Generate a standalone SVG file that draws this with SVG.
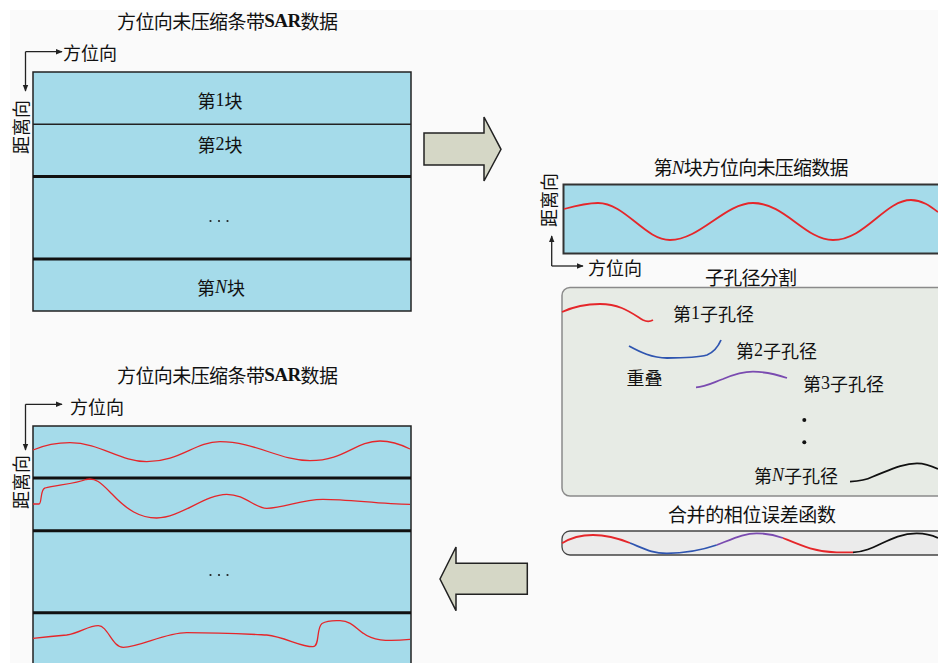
<svg xmlns="http://www.w3.org/2000/svg" width="938" height="663" viewBox="0 0 938 663">
<style>
.t{font-family:"Noto Sans CJK SC","Noto Sans",sans-serif;fill:#111;}
.title{font-size:19px;text-anchor:middle;dominant-baseline:central;font-weight:normal;}
.lab{font-size:18px;text-anchor:middle;dominant-baseline:central;}
.sub{font-size:18px;dominant-baseline:central;}
.lat{font-family:"Liberation Serif",serif;}
.it{font-family:"Liberation Serif",serif;font-style:italic;}
.blk{fill:#a5dbea;stroke:#222;stroke-width:1.5;}
.thick{stroke:#111;stroke-width:3;}
.thin{stroke:#222;stroke-width:1.5;}
.ax{fill:none;stroke:#222;stroke-width:1.3;}
.red{fill:none;stroke:#e5262a;stroke-width:1.3;}
.red2{fill:none;stroke:#e5262a;stroke-width:1.8;}
.blue{fill:none;stroke:#2f55b0;stroke-width:1.8;}
.pur{fill:none;stroke:#7a4bb0;stroke-width:1.8;}
.blk2{fill:none;stroke:#111;stroke-width:1.8;}
.bigarrow{fill:#d5d7c6;stroke:#222;stroke-width:1.5;stroke-linejoin:miter;}
.dot{fill:#222;}
</style>
<defs>
<marker id="ah" viewBox="0 0 10 10" refX="9" refY="5" markerWidth="7" markerHeight="7" orient="auto" markerUnits="userSpaceOnUse">
<path d="M0,1 L10,5 L0,9 Z" fill="#222"/>
</marker>
</defs>
<rect x="0" y="0" width="938" height="663" fill="#ffffff"/>
<rect x="10" y="10" width="928" height="653" fill="#fafafa"/>

<g id="panel-top">
<text class="t title" x="227.5" y="20" textLength="221" lengthAdjust="spacing">方位向未压缩条带<tspan class="lat" font-weight="bold">SAR</tspan>数据</text>
<path class="ax" d="M25.5,51.7 L62,51.7" marker-end="url(#ah)"/>
<path class="ax" d="M25.5,51.7 L25.5,91" marker-end="url(#ah)"/>
<text class="t sub" x="63" y="52">方位向</text>
<text class="t lab" transform="translate(20,127) rotate(-90)">距离向</text>
<rect class="blk" x="33" y="72" width="378" height="239"/>
<line class="thin" x1="33" y1="124.3" x2="411" y2="124.3"/>
<line class="thick" x1="33" y1="176.5" x2="411" y2="176.5"/>
<line class="thick" x1="33" y1="259" x2="411" y2="259"/>
<text class="t lab" x="220" y="100">第<tspan class="lat">1</tspan>块</text>
<text class="t lab" x="220" y="144">第<tspan class="lat">2</tspan>块</text>
<circle class="dot" cx="210.5" cy="221" r="1.1"/>
<circle class="dot" cx="219" cy="221" r="1.1"/>
<circle class="dot" cx="227.5" cy="221" r="1.1"/>
<text class="t lab" x="221" y="287">第<tspan class="it">N</tspan>块</text>
</g>

<g id="arrow-right">
<path class="bigarrow" d="M424,133 L484,133 L484,117 L501,149.3 L484,181 L484,165 L424,165 Z"/>
</g>

<g id="panel-n">
<text class="t title" x="751" y="166.7" textLength="195" lengthAdjust="spacing">第<tspan class="it">N</tspan>块方位向未压缩数据</text>
<rect x="563.5" y="184.5" width="390" height="69" fill="#a5dbea" stroke="#333" stroke-width="2"/>
<path class="red2" d="M564,209 C575,206 586,203 598,203 C625,203 645,240 670,240 C700,240 725,203 753,203 C785,203 805,240 833,240 C865,240 885,200 911,200 C922,200 930,206 938,212"/>
<text class="t lab" transform="translate(548,200) rotate(-90)">距离向</text>
<path class="ax" d="M551.7,266 L551.7,236" marker-end="url(#ah)"/>
<path class="ax" d="M551.7,266 L583,266" marker-end="url(#ah)"/>
<text class="t sub" x="588" y="267">方位向</text>
</g>

<g id="sub-split">
<text class="t title" x="751" y="276" textLength="92" lengthAdjust="spacing">子孔径分割</text>
<rect x="562" y="287.5" width="400" height="208.5" rx="8" ry="8" fill="#e7ebe5" stroke="#8a8a8a" stroke-width="1.5"/>
<path class="red2" d="M562,312 C575,306 588,304 600,304 C620,304 630,312 643,320 C647,322 650,321.7 653,320"/>
<text class="t sub" x="673" y="313">第<tspan class="lat">1</tspan>子孔径</text>
<path class="blue" d="M629,346 C640,352 652,358 667,358 C685,358 700,357 707,355 C714,352 718,347 721,340"/>
<text class="t sub" x="736" y="350">第<tspan class="lat">2</tspan>子孔径</text>
<text class="t sub" x="626.5" y="377">重叠</text>
<path class="pur" d="M696,387.3 C705,387 712,383 723,379 C735,374 745,371.7 753,371.7 C767,371.7 778,375 787,378"/>
<text class="t sub" x="803" y="383">第<tspan class="lat">3</tspan>子孔径</text>
<circle cx="804.3" cy="420" r="2" fill="#111"/>
<circle cx="804.3" cy="442.3" r="2" fill="#111"/>
<text class="t sub" x="754" y="475">第<tspan class="it">N</tspan>子孔径</text>
<path class="blk2" d="M850,481.7 C860,481 866,480 872,477 C890,470 903,463.3 917,463.3 C925,463.3 932,466 938,469"/>
</g>

<g id="merged">
<text class="t title" x="752" y="513" textLength="168" lengthAdjust="spacing">合并的相位误差函数</text>
<rect x="562" y="531" width="400" height="24" rx="8" ry="8" fill="#ebebeb" stroke="#444" stroke-width="1.3"/>
<path class="red2" d="M562,543.3 C572,537 583,535 593,535 C608,535 620,539 630,543"/>
<path class="blue" d="M630,543 C645,549 652,553.3 666.7,553.3 C690,553.3 705,549 716.7,545"/>
<path class="pur" d="M716.7,545 C735,538 745,533.3 756.7,533.3 C768,533.3 775,535 783,538"/>
<path class="red2" d="M783,538 C800,545 815,552 836.7,552.3 L853,552.3"/>
<path class="blk2" d="M853,552.3 C875,552 890,533.3 916.7,533.3 C925,533.3 932,535 938,538"/>
</g>

<g id="arrow-left">
<path class="bigarrow" d="M527.3,563.3 L456,563.3 L456,547 L440,579 L456,610.7 L456,594.3 L527.3,594.3 Z"/>
</g>

<g id="panel-bottom">
<text class="t title" x="227.5" y="374" textLength="221" lengthAdjust="spacing">方位向未压缩条带<tspan class="lat" font-weight="bold">SAR</tspan>数据</text>
<path class="ax" d="M25.5,404.3 L62,404.3" marker-end="url(#ah)"/>
<path class="ax" d="M25.5,404.3 L25.5,450" marker-end="url(#ah)"/>
<text class="t sub" x="70" y="406">方位向</text>
<text class="t lab" transform="translate(20,482) rotate(-90)">距离向</text>
<rect class="blk" x="33" y="426" width="378" height="245"/>
<line class="thick" x1="33" y1="478" x2="411" y2="478"/>
<line class="thick" x1="33" y1="530.7" x2="411" y2="530.7"/>
<line class="thick" x1="33" y1="612.7" x2="411" y2="612.7"/>
<path class="red" d="M33,450 C45,445 58,442.7 70,442.7 C100,442.7 120,461.7 146.7,461.7 C180,461.7 195,441.7 220,441.7 C255,441.7 280,460.7 310,460.7 C345,460.7 355,441 380,441 C392,441 402,445 410,449"/>
<path class="red" d="M33,504 L39,504 C42,504 40,489 45,488 C55,485 75,484 86,479.5 C96,477 102,484 112,494 C127,510 140,518 156.7,518 C180,518 205,494.3 226.7,494.3 C245,494.3 255,508.3 266.7,508.3 C285,508.3 300,499.3 323,499.3 C350,499.3 380,504.3 410,504.3"/>
<path class="red" d="M33,638.3 C45,637 55,636 66.7,635 C80,633 88,625.7 98.3,625.7 C108,625.7 112,647.3 123.3,647.3 C140,647.3 165,632.7 186.7,632.7 C220,632.7 245,634 266.7,635 C285,637 300,646.7 313,646.7 C320,646.7 316,628 322,623.5 C328,620 335,620.7 340,620.7 C352,620.7 357,630 363.3,633.3 C372,640 385,642 410,639.3"/>
<circle class="dot" cx="210.5" cy="575" r="1.1"/>
<circle class="dot" cx="219" cy="575" r="1.1"/>
<circle class="dot" cx="227.5" cy="575" r="1.1"/>
</g>
</svg>
